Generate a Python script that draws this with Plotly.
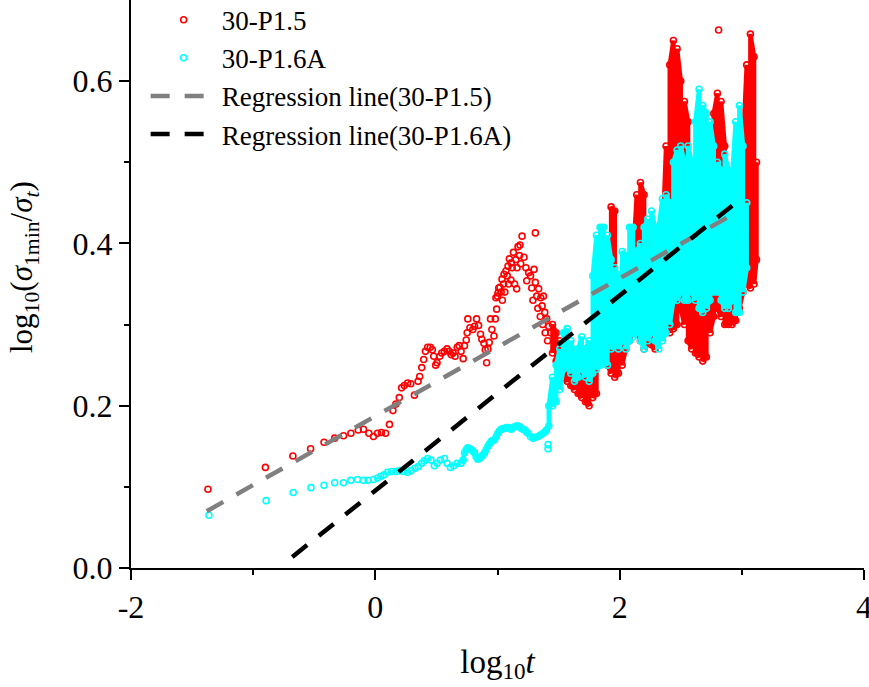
import plotly.graph_objects as go

# ---------------- data ----------------
# 30-P1.5 : individually visible points
red_x = [-1.37, -0.90, -0.675, -0.53, -0.42, -0.333, -0.26, -0.20, -0.14, -0.097,
         -0.053, -0.015, 0.018, 0.05, 0.084, 0.116, 0.144, 0.168, 0.196, 0.215,
         0.237, 0.264, 0.29, 0.32, 0.35, 0.363, 0.38, 0.396, 0.41, 0.428,
         0.45, 0.467, 0.478, 0.494, 0.505, 0.527, 0.543, 0.565, 0.587, 0.604,
         0.62, 0.637, 0.653, 0.67, 0.686, 0.702, 0.719, 0.73, 0.744, 0.752,
         0.757, 0.774, 0.798, 0.812, 0.829, 0.845, 0.861, 0.872, 0.889, 0.90,
         0.911, 0.922, 0.932, 0.943, 0.954, 0.971, 0.982, 0.993, 0.987, 1.004,
         1.02, 1.037, 1.053, 1.069, 1.086, 1.097, 1.113, 1.13, 1.14, 1.157,
         1.168, 1.184, 1.201, 1.217, 1.233, 1.239, 1.255, 1.31, 1.299, 1.31,
         1.321, 1.337, 1.354, 1.365, 1.376, 1.387, 1.403, 1.419, 1.436,
         1.00, 1.01, 1.03, 1.04, 1.05, 1.06, 1.08, 1.09, 1.11, 1.12,
         1.15, 1.16, 1.18, 1.19, 1.27, 1.28, 1.29, 1.33, 1.35, 1.37, 1.39, 1.41]
red_y = [0.097, 0.124, 0.138, 0.147, 0.155, 0.160, 0.163, 0.166, 0.170, 0.171,
         0.166, 0.162, 0.166, 0.167, 0.166, 0.177, 0.194, 0.202, 0.210, 0.222,
         0.225, 0.228, 0.227, 0.213, 0.230, 0.236, 0.247, 0.257, 0.267, 0.272,
         0.272, 0.269, 0.261, 0.250, 0.253, 0.261, 0.265, 0.267, 0.270, 0.267,
         0.263, 0.265, 0.261, 0.272, 0.274, 0.267, 0.258, 0.274, 0.281, 0.290,
         0.307, 0.296, 0.294, 0.298, 0.307, 0.299, 0.288, 0.282, 0.277, 0.269,
         0.253, 0.270, 0.278, 0.307, 0.294, 0.286, 0.307, 0.319, 0.333, 0.339,
         0.346, 0.356, 0.362, 0.366, 0.372, 0.381, 0.376, 0.389, 0.350, 0.344,
         0.396, 0.398, 0.409, 0.383, 0.370, 0.354, 0.364, 0.413, 0.368, 0.352,
         0.335, 0.344, 0.333, 0.323, 0.335, 0.315, 0.307, 0.298, 0.290,
         0.335, 0.345, 0.340, 0.330, 0.350, 0.340, 0.360, 0.350, 0.355, 0.370,
         0.380, 0.370, 0.385, 0.375, 0.360, 0.345, 0.330, 0.320, 0.310, 0.300, 0.290, 0.280]

# 30-P1.5 : dense part, lower / upper edge of the point cloud
red_band_x = [1.45, 1.48, 1.51, 1.54, 1.57, 1.60, 1.63, 1.66, 1.69, 1.72,
              1.75, 1.78, 1.81, 1.84, 1.87, 1.90, 1.93, 1.96, 1.99, 2.02,
              2.05, 2.08, 2.11, 2.14, 2.17, 2.20, 2.23, 2.26, 2.29, 2.32,
              2.35, 2.38, 2.41, 2.44, 2.47, 2.50, 2.53, 2.56, 2.59, 2.62,
              2.65, 2.68, 2.71, 2.74, 2.77, 2.80, 2.83, 2.86, 2.89, 2.92,
              2.95, 2.98, 3.01, 3.04, 3.07, 3.10, 3.12]
red_band_lo = [0.265, 0.255, 0.245, 0.235, 0.230, 0.225, 0.220, 0.215, 0.210, 0.205,
               0.200, 0.210, 0.215, 0.255, 0.260, 0.250, 0.240, 0.235, 0.240, 0.250,
               0.270, 0.280, 0.295, 0.290, 0.280, 0.270, 0.280, 0.275, 0.270, 0.285,
               0.300, 0.300, 0.290, 0.295, 0.300, 0.320, 0.300, 0.280, 0.270, 0.265,
               0.260, 0.255, 0.260, 0.290, 0.310, 0.320, 0.310, 0.300, 0.300, 0.300,
               0.305, 0.320, 0.340, 0.350, 0.345, 0.350, 0.380]
red_band_hi = [0.300, 0.290, 0.280, 0.270, 0.265, 0.260, 0.255, 0.260, 0.250, 0.245,
               0.250, 0.260, 0.265, 0.340, 0.345, 0.400, 0.445, 0.440, 0.340, 0.330,
               0.320, 0.330, 0.380, 0.460, 0.475, 0.460, 0.400, 0.340, 0.345, 0.340,
               0.400, 0.520, 0.620, 0.650, 0.640, 0.600, 0.575, 0.550, 0.450, 0.410,
               0.400, 0.440, 0.420, 0.500, 0.560, 0.585, 0.575, 0.520, 0.440, 0.410,
               0.430, 0.460, 0.520, 0.620, 0.658, 0.630, 0.500]
red_out_x = [2.81]
red_out_y = [0.663]

# 30-P1.6A : individually visible points
cyan_x = [-1.362, -0.894, -0.672, -0.527, -0.420, -0.333, -0.261, -0.201, -0.146, -0.097,
          -0.059, -0.015, 0.018, 0.045, 0.072, 0.100, 0.133, 0.168, 0.199, 0.231,
          0.264, 0.292, 0.325, 0.352, 0.379, 0.401, 0.428, 0.456, 0.483, 0.505,
          0.533, 0.565, 0.587, 0.615, 0.642, 0.669, 1.414, 1.414]
cyan_y = [0.065, 0.083, 0.093, 0.099, 0.102, 0.105, 0.105, 0.108, 0.109, 0.108,
          0.108, 0.109, 0.111, 0.113, 0.115, 0.118, 0.119, 0.119, 0.120, 0.119,
          0.118, 0.120, 0.123, 0.125, 0.129, 0.132, 0.135, 0.133, 0.126, 0.129,
          0.133, 0.135, 0.129, 0.124, 0.126, 0.129, 0.152, 0.147]

# 30-P1.6A : continuous wiggle before the dense part
cyan_wig_x = [0.702, 0.719, 0.730, 0.745, 0.757, 0.771, 0.785, 0.798, 0.812, 0.825,
              0.839, 0.853, 0.867, 0.880, 0.894, 0.908, 0.922, 0.935, 0.949, 0.962,
              0.976, 0.990, 1.003, 1.017, 1.031, 1.045, 1.058, 1.072, 1.086, 1.100,
              1.113, 1.127, 1.141, 1.155, 1.168, 1.182, 1.195, 1.209, 1.223, 1.236,
              1.250, 1.270, 1.291, 1.311, 1.332, 1.352, 1.373, 1.390, 1.400]
cyan_wig_y = [0.129, 0.133, 0.142, 0.146, 0.148, 0.147, 0.146, 0.144, 0.142, 0.137,
              0.134, 0.135, 0.137, 0.139, 0.142, 0.146, 0.150, 0.153, 0.156, 0.157,
              0.158, 0.162, 0.166, 0.169, 0.171, 0.172, 0.172, 0.173, 0.173, 0.172,
              0.171, 0.173, 0.174, 0.175, 0.175, 0.174, 0.172, 0.171, 0.170, 0.168,
              0.166, 0.162, 0.160, 0.161, 0.162, 0.164, 0.166, 0.168, 0.170]

# 30-P1.6A : dense part, lower / upper edge of the point cloud
cyan_band_x = [1.42, 1.45, 1.48, 1.51, 1.54, 1.57, 1.60, 1.63, 1.66, 1.69,
               1.72, 1.75, 1.78, 1.81, 1.84, 1.87, 1.90, 1.93, 1.96, 1.99,
               2.02, 2.05, 2.08, 2.11, 2.14, 2.17, 2.20, 2.23, 2.26, 2.29,
               2.32, 2.35, 2.38, 2.41, 2.44, 2.47, 2.50, 2.53, 2.56, 2.59,
               2.62, 2.65, 2.68, 2.71, 2.74, 2.77, 2.80, 2.83, 2.86, 2.89,
               2.92, 2.95, 2.98, 3.01, 3.04]
cyan_band_lo = [0.175, 0.200, 0.205, 0.220, 0.245, 0.250, 0.240, 0.230, 0.235, 0.245,
                0.235, 0.230, 0.240, 0.245, 0.250, 0.255, 0.250, 0.270, 0.275, 0.270,
                0.280, 0.270, 0.280, 0.285, 0.290, 0.280, 0.270, 0.280, 0.290, 0.280,
                0.270, 0.280, 0.290, 0.300, 0.330, 0.330, 0.340, 0.330, 0.330, 0.340,
                0.330, 0.320, 0.315, 0.320, 0.330, 0.340, 0.340, 0.330, 0.320, 0.320,
                0.330, 0.315, 0.315, 0.340, 0.370]
cyan_band_hi = [0.200, 0.235, 0.250, 0.270, 0.290, 0.295, 0.280, 0.265, 0.270, 0.285,
                0.270, 0.280, 0.360, 0.410, 0.420, 0.420, 0.410, 0.380, 0.370, 0.360,
                0.390, 0.385, 0.420, 0.420, 0.390, 0.400, 0.420, 0.430, 0.440, 0.420,
                0.420, 0.455, 0.460, 0.450, 0.500, 0.515, 0.520, 0.500, 0.520, 0.500,
                0.550, 0.590, 0.570, 0.560, 0.550, 0.520, 0.500, 0.490, 0.510, 0.490,
                0.480, 0.550, 0.570, 0.520, 0.450]

# regression lines (end points)
reg1_x = [-1.38, 2.93]
reg1_y = [0.070, 0.436]
reg2_x = [-0.68, 2.95]
reg2_y = [0.0136, 0.450]

x_ticks = [-2, 0, 2, 4]
x_ticklabels = ["-2", "0", "2", "4"]
y_ticks = [0.0, 0.2, 0.4, 0.6]
y_ticklabels = ["0.0", "0.2", "0.4", "0.6"]

RED = "#FF0000"
CYAN = "#00FFFF"
FONT = "Liberation Serif"


def zigzag(xs, lo, hi):
    px, py = [], []
    for i, (x, a, b) in enumerate(zip(xs, lo, hi)):
        px += [x, x]
        py += [a, b] if i % 2 == 0 else [b, a]
    return px, py


rzx, rzy = zigzag(red_band_x, red_band_lo, red_band_hi)
czx, czy = zigzag(cyan_band_x, cyan_band_lo, cyan_band_hi)

mk_red = dict(symbol="circle-open", size=6, color=RED, line=dict(width=1.6))
mk_cyan = dict(symbol="circle-open", size=6, color=CYAN, line=dict(width=1.6))

fig = go.Figure()
fig.add_trace(go.Scatter(x=red_x + red_out_x, y=red_y + red_out_y, mode="markers",
                         marker=mk_red, name="30-P1.5"))
fig.add_trace(go.Scatter(x=rzx, y=rzy, mode="lines+markers", marker=mk_red,
                         line=dict(color=RED, width=4.5), showlegend=False))
fig.add_trace(go.Scatter(x=cyan_x, y=cyan_y, mode="markers",
                         marker=mk_cyan, name="30-P1.6A"))
fig.add_trace(go.Scatter(x=cyan_wig_x + czx, y=cyan_wig_y + czy, mode="lines+markers",
                         marker=mk_cyan, line=dict(color=CYAN, width=4.5), showlegend=False))
fig.add_trace(go.Scatter(x=reg1_x, y=reg1_y, mode="lines",
                         line=dict(color="#808080", width=4.5, dash="19px,15px"),
                         name="Regression line(30-P1.5)"))
fig.add_trace(go.Scatter(x=reg2_x, y=reg2_y, mode="lines",
                         line=dict(color="#000000", width=4.5, dash="19px,15px"),
                         name="Regression line(30-P1.6A)"))

axis_common = dict(showline=True, linecolor="black", linewidth=2, ticks="outside",
                   ticklen=10, tickwidth=2, tickcolor="black", showgrid=False,
                   zeroline=False, mirror=False, automargin=False,
                   ticklabeloverflow="allow",
                   tickfont=dict(family=FONT, size=32, color="black"))

fig.update_xaxes(range=[-2, 4], tickmode="array", tickvals=x_ticks, ticktext=x_ticklabels,
                 minor=dict(tickvals=[-1, 1, 3], ticklen=5, tickwidth=2, tickcolor="black",
                            ticks="outside"),
                 title=dict(text="log<sub>10</sub><i>t</i>",
                            font=dict(family=FONT, size=33, color="black"), standoff=25),
                 **axis_common)
fig.update_yaxes(range=[0, 0.70], tickmode="array", tickvals=y_ticks, ticktext=y_ticklabels,
                 minor=dict(tickvals=[0.1, 0.3, 0.5], ticklen=5, tickwidth=2, tickcolor="black",
                            ticks="outside"),
                 **axis_common)

PLOT_L, PLOT_R, PLOT_B = 131, 5, 119
plot_w = 869 - PLOT_L - PLOT_R
plot_h = 687 - PLOT_B

fig.add_annotation(
    text="log<sub>10</sub>(<i>σ</i><sub>1min</sub>/<i>σ</i><sub><i>t</i></sub>)",
    textangle=-90, xref="paper", yref="paper",
    x=(24 - PLOT_L) / plot_w, y=(plot_h - 267) / plot_h,
    xanchor="center", yanchor="middle", showarrow=False,
    font=dict(family=FONT, size=31, color="black"))

fig.update_layout(
    width=869, height=687,
    margin=dict(l=PLOT_L, r=PLOT_R, t=0, b=PLOT_B, autoexpand=False),
    paper_bgcolor="white", plot_bgcolor="white",
    showlegend=True,
    legend=dict(x=0.02, y=1.0077, xanchor="left", yanchor="top",
                font=dict(family=FONT, size=27, color="black"),
                bgcolor="rgba(0,0,0,0)", itemwidth=66, tracegroupgap=0),
)

fig.write_html("out.html", config={"displayModeBar": False},
               post_script="document.body.style.margin='0';document.body.style.overflow='hidden';")
